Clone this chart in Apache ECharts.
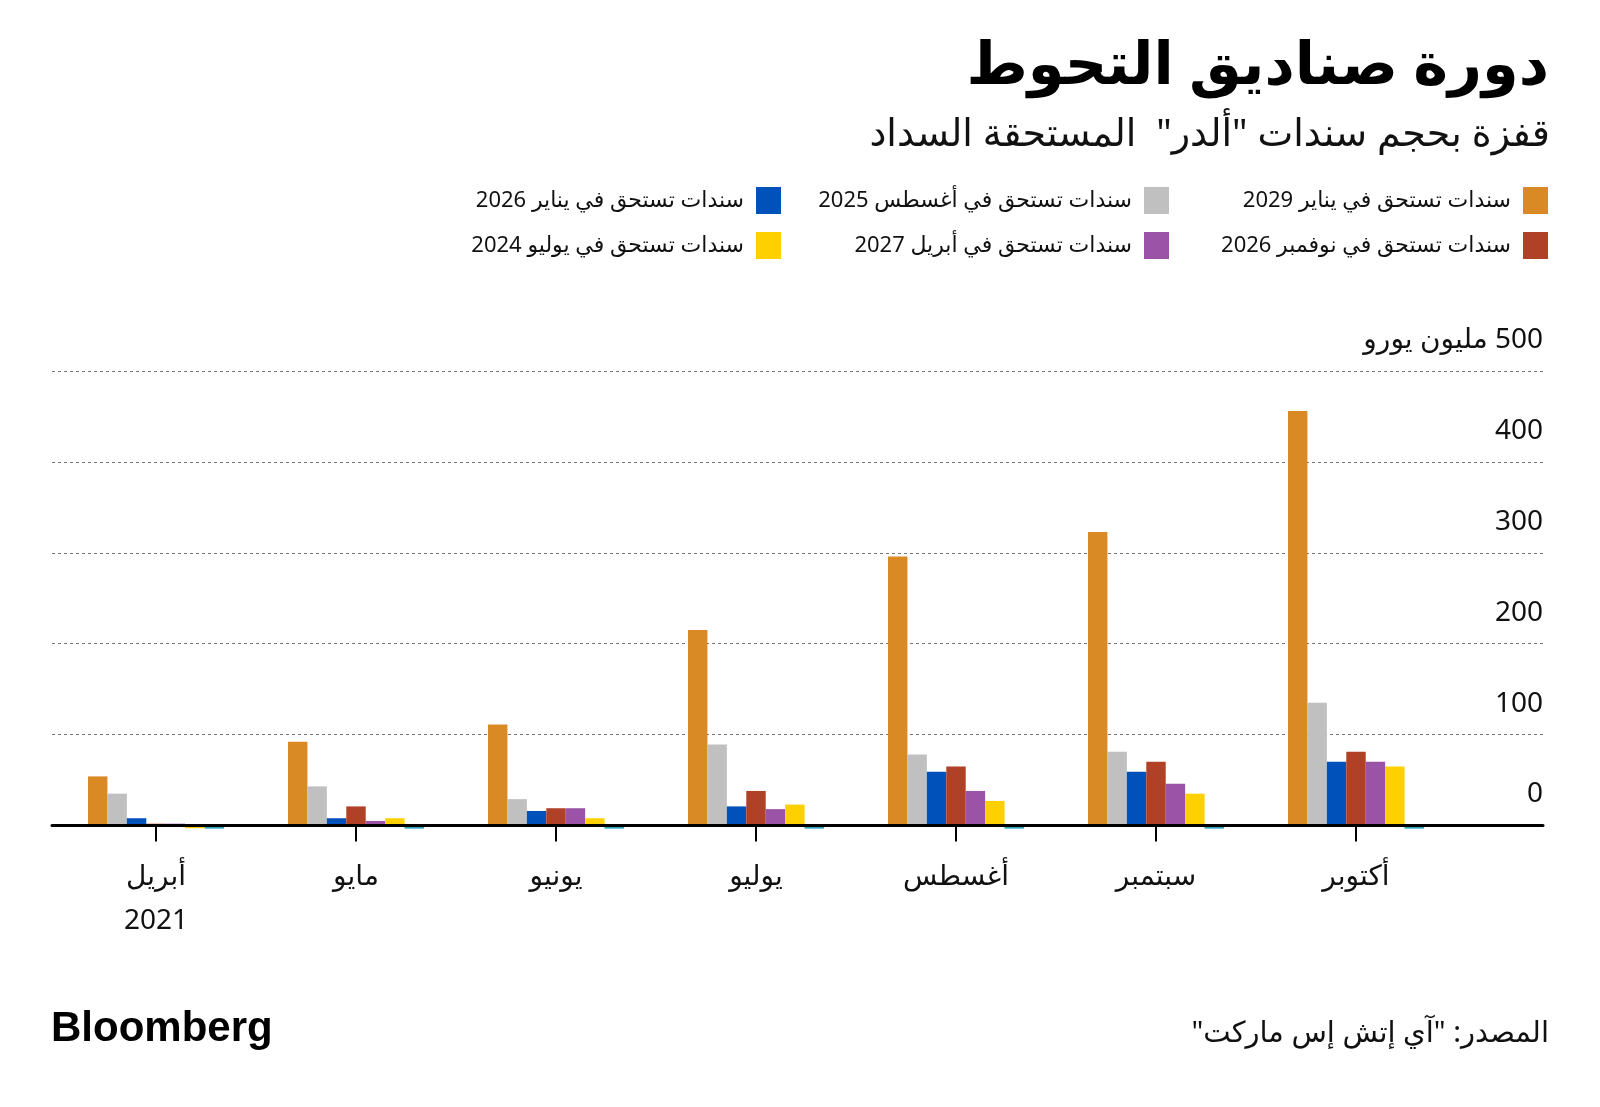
<!DOCTYPE html>
<html>
<head>
<meta charset="utf-8">
<script src="https://cdn.jsdelivr.net/npm/echarts@6/dist/echarts.min.js"></script>
<style>
html,body{margin:0;padding:0;background:#fff;}
#chart{width:1600px;height:1107px;}
</style>
</head>
<body>
<div id="chart"></div>
<script>
// ---- data ----
const categories = ['أبريل', 'مايو', 'يونيو', 'يوليو', 'أغسطس', 'سبتمبر', 'أكتوبر'];
const firstYearLabel = '2021';
const seriesNames = [
  'سندات تستحق في يناير 2029',
  'سندات تستحق في أغسطس 2025',
  'سندات تستحق في يناير 2026',
  'سندات تستحق في نوفمبر 2026',
  'سندات تستحق في أبريل 2027',
  'سندات تستحق في يوليو 2024'
];
const otherName = 'سندات أخرى';
const jan2029 = [54, 92, 111, 215, 296, 323, 456];
const aug2025 = [35, 43, 29, 89, 78, 81, 135];
const jan2026 = [8, 8, 16, 21, 59, 59, 70];
const nov2026 = [2, 21, 19, 38, 65, 70, 81];
const apr2027 = [2, 5, 19, 18, 38, 46, 70];
const jul2024 = [-3, 8, 8, 23, 27, 35, 65];
const other   = [-3.5, -3.5, -3.5, -3.5, -3.5, -3.5, -3.5];
const yTicks = [0, 100, 200, 300, 400, 500];
const yUnit = 'مليون يورو';
const titleText = 'دورة صناديق التحوط';
const subtitleText = 'قفزة بحجم سندات "ألدر"  المستحقة السداد';
const sourceText = 'المصدر: "آي إتش إس ماركت"';

const colors = ['#DA8A24', '#C0C0C0', '#0051BA', '#B04127', '#9A53A6', '#FFD000', '#2AA3B8'];
const FONT = "'Noto Sans', 'DejaVu Sans', sans-serif";

const chart = echarts.init(document.getElementById('chart'), null, {renderer: 'canvas'});

const values = [jan2029, aug2025, jan2026, nov2026, apr2027, jul2024];
const series = values.map((v, i) => ({
  name: seriesNames[i], type: 'bar', xAxisIndex: 0, yAxisIndex: 0,
  data: v, itemStyle: {color: colors[i]}, barGap: '0%', barCategoryGap: '32%', clip: false
}));
series.push({name: otherName, type: 'bar', xAxisIndex: 0, yAxisIndex: 0,
  data: other, itemStyle: {color: colors[6]}, barGap: '0%', barCategoryGap: '32%', clip: false});

// legend positions: [right, top]
const legendPos = [[47, 182], [426, 182], [814, 182], [47, 227], [426, 227], [814, 227]];
const legends = seriesNames.map((n, i) => ({
  data: [n], right: legendPos[i][0], top: legendPos[i][1], align: 'right',
  icon: 'rect', itemWidth: 25, itemHeight: 27, selectedMode: false,
  textStyle: {fontSize: 22, color: '#111', fontFamily: FONT, padding: [0, 7, 0, 0]}
}));

const option = {
  animation: false,
  backgroundColor: '#fff',
  title: [
    {text: titleText, right: 46, top: 33,
     textStyle: {fontSize: 59, fontWeight: 'bold', color: '#000', fontFamily: FONT}},
    {text: subtitleText, right: 45, top: 111,
     textStyle: {fontSize: 38, fontWeight: 'normal', color: '#111', fontFamily: FONT}}
  ],
  legend: legends,
  grid: [
    {left: 56, width: 1400, top: 371, height: 454.5},
    {left: 52, right: 57, top: 371, height: 454.5}
  ],
  xAxis: [
    {type: 'category', gridIndex: 0, data: categories,
     axisLine: {show: false},
     axisTick: {show: true, alignWithLabel: true, length: 16, lineStyle: {color: '#000', width: 2}},
     axisLabel: {fontSize: 28, color: '#111', fontFamily: FONT, lineHeight: 44, margin: 30,
       formatter: (v, idx) => idx === 0 ? v + '\n' + firstYearLabel : v},
     splitLine: {show: false}},
    {type: 'value', gridIndex: 1, min: 0, max: 1, z: 10,
     axisLine: {show: true, lineStyle: {color: '#000', width: 3}},
     axisTick: {show: false}, axisLabel: {show: false}, splitLine: {show: false}}
  ],
  yAxis: [
    {type: 'value', gridIndex: 0, min: yTicks[0], max: yTicks[yTicks.length - 1], interval: 100, show: false},
    {type: 'value', gridIndex: 1, position: 'right', min: yTicks[0], max: yTicks[yTicks.length - 1], interval: 100,
     axisLine: {show: false}, axisTick: {show: false},
     splitLine: {show: true, lineStyle: {color: '#777', width: 1, type: [3, 3]}},
     axisLabel: {inside: true, margin: 0, fontSize: 28, color: '#111', fontFamily: FONT,
       verticalAlign: 'bottom', padding: [0, 0, 17, 0],
       formatter: v => v === yTicks[yTicks.length - 1] ? '\u200F' + v + ' ' + yUnit : String(v)}}
  ],
  graphic: [
    {type: 'text', left: 51, top: 1008,
     style: {text: 'Bloomberg', fontSize: 42, fontWeight: 'bold', fill: '#000', fontFamily: "'Liberation Sans', Arial, sans-serif"}},
    {type: 'text', right: 51, top: 1019,
     style: {text: sourceText + '\u200F', fontSize: 29, fill: '#111', fontFamily: FONT}}
  ],
  series: series
};
chart.setOption(option);
</script>
</body>
</html>
